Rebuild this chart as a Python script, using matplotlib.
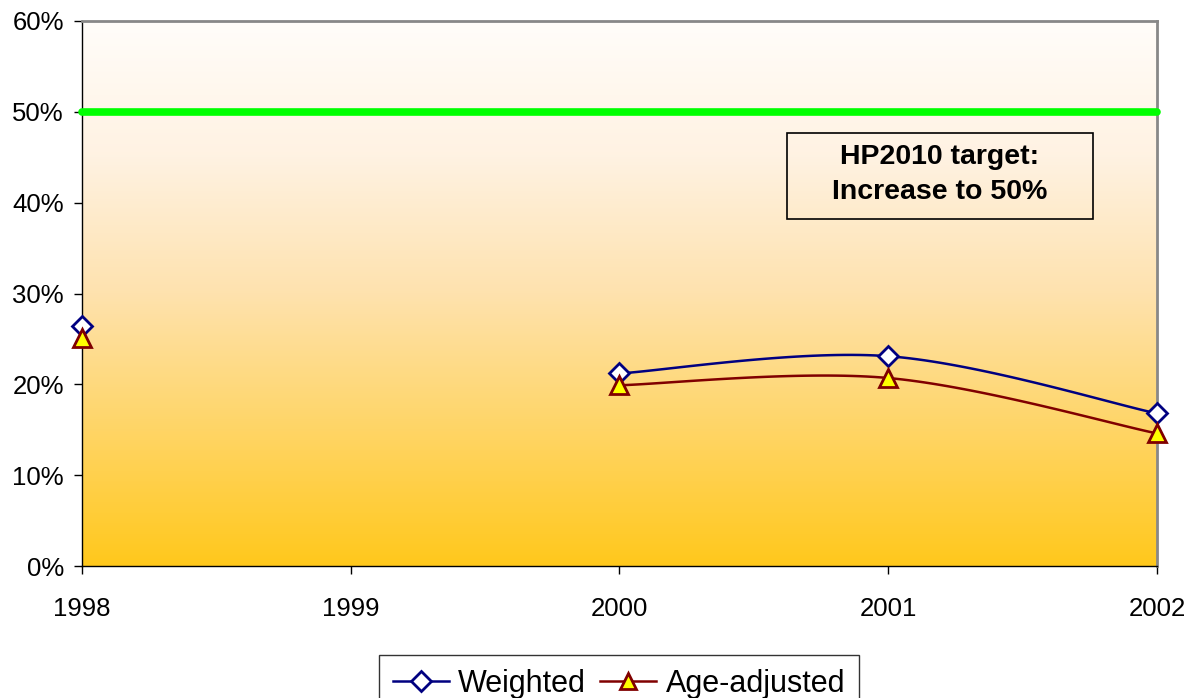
import numpy as np
import matplotlib.pyplot as plt
from matplotlib.colors import LinearSegmentedColormap
from matplotlib.patches import Rectangle
from matplotlib.ticker import FuncFormatter

plt.rcParams['font.family'] = ['Liberation Sans', 'DejaVu Sans']

# data (percent); None = no survey that year
years = [1998, 1999, 2000, 2001, 2002]
weighted = [26.4, None, 21.2, 23.1, 16.8]
age_adjusted = [25.1, None, 19.9, 20.7, 14.6]
target = [50, 50, 50, 50, 50]
target_text = 'HP2010 target:\nIncrease to 50%'


def smooth_runs(xs, ys, n=40):
    # Excel-style smoothed line: cubic bezier through each run of valid points
    runs, cur = [], []
    for x, y in zip(xs, ys):
        if y is None:
            if cur:
                runs.append(cur)
            cur = []
        else:
            cur.append((x, y))
    if cur:
        runs.append(cur)
    out = []
    for run in runs:
        if len(run) < 2:
            continue
        p = np.array(run, dtype=float)
        px, py = [], []
        for i in range(len(p) - 1):
            p0 = p[i - 1] if i > 0 else p[i]
            p1, p2 = p[i], p[i + 1]
            p3 = p[i + 2] if i + 2 < len(p) else p[i + 1]
            c1 = p1 + (p2 - p0) / 6
            c2 = p2 - (p3 - p1) / 6
            t = np.linspace(0, 1, n)[:, None]
            b = ((1 - t) ** 3) * p1 + 3 * ((1 - t) ** 2) * t * c1 + 3 * (1 - t) * t ** 2 * c2 + t ** 3 * p2
            px.extend(b[:, 0]); py.extend(b[:, 1])
        out.append((px, py))
    return out


fig = plt.figure(figsize=(11.89, 6.98), dpi=100)
ax = fig.add_axes([0.069, 0.189, 0.904, 0.781])

ax.set_xlim(1998, 2002)
ax.set_ylim(0, 60)

# gradient background (gold at bottom fading to near white at top)
cmap = LinearSegmentedColormap.from_list(
    'bg', [(0.0, '#FFC81C'), (0.25, '#FFD566'), (0.5, '#FEE2AE'),
           (0.75, '#FFF2E2'), (1.0, '#FFFDFA')])
grad = np.linspace(0, 1, 256).reshape(-1, 1)
ax.imshow(grad, extent=[1998, 2002, 0, 60], origin='lower', aspect='auto',
          cmap=cmap, zorder=0)

ax.plot(years, target, color='#00FF00', lw=5.5, solid_capstyle='round',
        zorder=3, clip_on=False)

for ys, lc, mk, fc, ms in [(weighted, '#000080', 'D', 'white', 10.5),
                           (age_adjusted, '#800000', '^', '#FFFF00', 12.5)]:
    for px, py in smooth_runs(years, ys):
        ax.plot(px, py, color=lc, lw=1.8, zorder=4)
    xv = [x for x, y in zip(years, ys) if y is not None]
    yv = [y for y in ys if y is not None]
    ax.plot(xv, yv, ls='none', marker=mk, ms=ms, mfc=fc, mec=lc, mew=2.0,
            zorder=5, clip_on=False)

# legend handles
h1, = ax.plot([], [], color='#000080', lw=1.8, marker='D', ms=10, mfc='white',
              mec='#000080', mew=2.0)
h2, = ax.plot([], [], color='#800000', lw=1.8, marker='^', ms=12, mfc='#FFFF00',
              mec='#800000', mew=2.0)
leg = fig.legend([h1, h2], ['Weighted', 'Age-adjusted'], loc='upper center',
                 bbox_to_anchor=(0.5205, 0.061), ncol=2, fontsize=22,
                 frameon=True, fancybox=False, handlelength=1.85,
                 handletextpad=0.3, columnspacing=0.45, borderpad=0.45,
                 borderaxespad=0)
leg.get_frame().set_edgecolor('black')
leg.get_frame().set_linewidth(1.0)

# target box
ax.add_patch(Rectangle((0.656, 0.637), 0.2845, 0.158, transform=ax.transAxes,
                       fill=False, edgecolor='black', lw=1.2, zorder=6))
ax.text(0.798, 0.718, target_text, transform=ax.transAxes, ha='center',
        va='center', fontsize=20.5, fontweight='bold', linespacing=1.45, zorder=7)

ax.set_xticks(years)
ax.set_yticks(range(0, 61, 10))
ax.yaxis.set_major_formatter(FuncFormatter(lambda v, p: '%d%%' % v))
ax.tick_params(direction='out', length=6, width=1, labelsize=18.5, pad=7)
ax.tick_params(axis='x', pad=16)

for s in ['left', 'bottom']:
    ax.spines[s].set_color('black')
    ax.spines[s].set_linewidth(1.0)
for s in ['top', 'right']:
    ax.spines[s].set_color('#888888')
    ax.spines[s].set_linewidth(2.0)

fig.savefig('out.png', dpi=100)
